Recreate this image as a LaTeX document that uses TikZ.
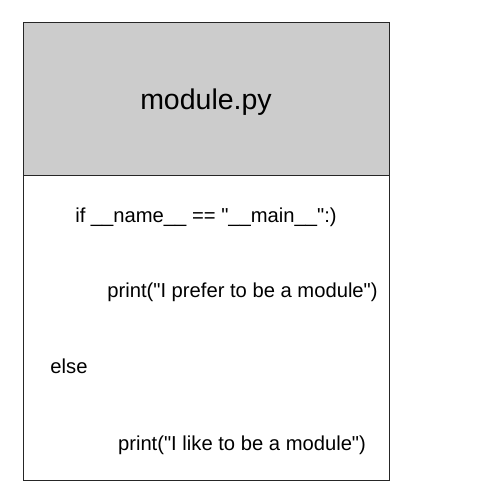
\documentclass[tikz,border=0pt]{standalone}
\usepackage{fontspec}
\setmainfont{Liberation Sans}
\newcommand{\dq}{\textquotedbl}
\begin{document}
\begin{tikzpicture}[x=1pt,y=-1pt,
  frame/.style={draw=black!85,line width=1pt,inner sep=0pt,outer sep=0pt,anchor=north west,minimum width=366pt},
  code/.style={inner sep=0pt,anchor=base,font=\fontsize{20.2}{24}\selectfont},
  title/.style={inner sep=0pt,anchor=base,font=\fontsize{28.5}{32}\selectfont}]
\useasboundingbox (0,0) rectangle (504,504);
\node[frame,fill=black!20,minimum height=153pt] (head) at (23,22) {};
\node[frame,minimum height=305pt] (body) at (23,175) {};
\node[title] (t) at (206,109) {module.py};
\node[code] (l1) at (206,222) {if \_\_name\_\_ == \dq\_\_main\_\_\dq:)};
\node[code] (l2) at (242.5,297) {print(\dq I prefer to be a module\dq)};
\node[code] (l3) at (69,373) {else};
\node[code] (l4) at (242,450) {print(\dq I like to be a module\dq)};
\end{tikzpicture}
\end{document}
